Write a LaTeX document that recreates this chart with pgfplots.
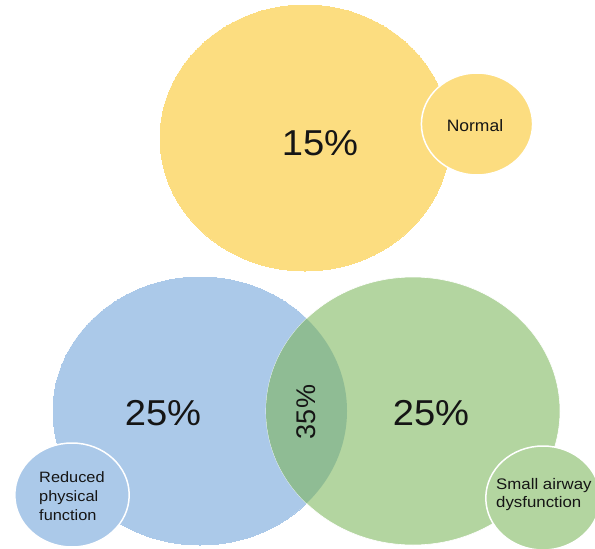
\documentclass[border=0pt]{standalone}
\usepackage{pgfplots}
\pgfplotsset{compat=1.18}
\usepackage{fontspec}
\setmainfont{Liberation Sans}
\definecolor{cyellow}{HTML}{FCDD80}
\definecolor{cblue}{HTML}{ABC9E9}
\definecolor{cgreen}{HTML}{B3D5A0}
\definecolor{clens}{HTML}{8FBC94}
\definecolor{ctext}{HTML}{151515}
% lens = green circle (at the data point) clipped by the blue circle 213pt to its left
\pgfdeclareplotmark{lens}{%
  \pgfscope
  \pgfpathellipse{\pgfpoint{-213pt}{0pt}}{\pgfpoint{147pt}{0pt}}{\pgfpoint{0pt}{134pt}}%
  \pgfusepath{clip}%
  \pgfpathellipse{\pgfpointorigin}{\pgfpoint{147pt}{0pt}}{\pgfpoint{0pt}{134pt}}%
  \pgfusepathqfill
  \endpgfscope
}
\begin{document}
\begin{tikzpicture}
\begin{axis}[
  width=595pt, height=549pt, scale only axis,
  xmin=0, xmax=595, ymin=0, ymax=549, y dir=reverse,
  hide axis, clip=false,
]
% big yellow
\addplot[only marks, mark=*, mark size=133pt, mark options={xscale=1.09, fill=cyellow, draw=cyellow, line width=0pt}] coordinates {(305,138)};
% Normal
\addplot[only marks, mark=*, mark size=51pt, mark options={xscale=1.09, fill=cyellow, draw=white, line width=1.5pt}] coordinates {(477,124)};
% blue
\addplot[only marks, mark=*, mark size=134pt, mark options={xscale=1.097, fill=cblue, draw=cblue, line width=0pt}] coordinates {(200,411)};
% green
\addplot[only marks, mark=*, mark size=134pt, mark options={xscale=1.097, fill=cgreen, draw=white, line width=0.6pt}] coordinates {(413,411)};
% overlap
\addplot[only marks, mark=lens, mark options={fill=clens, draw=clens}] coordinates {(413,411)};
% small blue
\addplot[only marks, mark=*, mark size=52pt, mark options={xscale=1.10, fill=cblue, draw=white, line width=1.5pt}] coordinates {(72,495)};
% small green
\addplot[only marks, mark=*, mark size=52pt, mark options={xscale=1.10, fill=cgreen, draw=white, line width=1.5pt}] coordinates {(543,498)};

\coordinate (tA) at (axis cs:320,143);
\coordinate (tB) at (axis cs:475,126);
\coordinate (tC) at (axis cs:163,413);
\coordinate (tD) at (axis cs:431,413);
\coordinate (tE) at (axis cs:306,412);
\coordinate (tF) at (axis cs:39,496.5);
\coordinate (tG) at (axis cs:496,495);
\end{axis}
\node[text=ctext, font=\fontsize{36}{40}\selectfont, xscale=1.06, transform shape] at (tA) {15\%};
\node[text=ctext, font=\fontsize{16.5}{19}\selectfont, xscale=1.06, transform shape] at (tB) {Normal};
\node[text=ctext, font=\fontsize{36}{40}\selectfont, xscale=1.06, transform shape] at (tC) {25\%};
\node[text=ctext, font=\fontsize{36}{40}\selectfont, xscale=1.06, transform shape] at (tD) {25\%};
\node[text=ctext, font=\fontsize{27}{30}\selectfont, rotate=90] at (tE) {35\%};
\node[text=ctext, font=\fontsize{15}{19}\selectfont, align=left, anchor=west, inner sep=0pt, xscale=1.09, transform shape] at (tF) {Reduced\\physical\\function};
\node[text=ctext, font=\fontsize{15.3}{18}\selectfont, align=left, anchor=west, inner sep=0pt, xscale=1.1, transform shape] at (tG) {Small airway\\dysfunction};
\pgfresetboundingbox
\path (current axis.south west) rectangle (current axis.north east);
\end{tikzpicture}
\end{document}
